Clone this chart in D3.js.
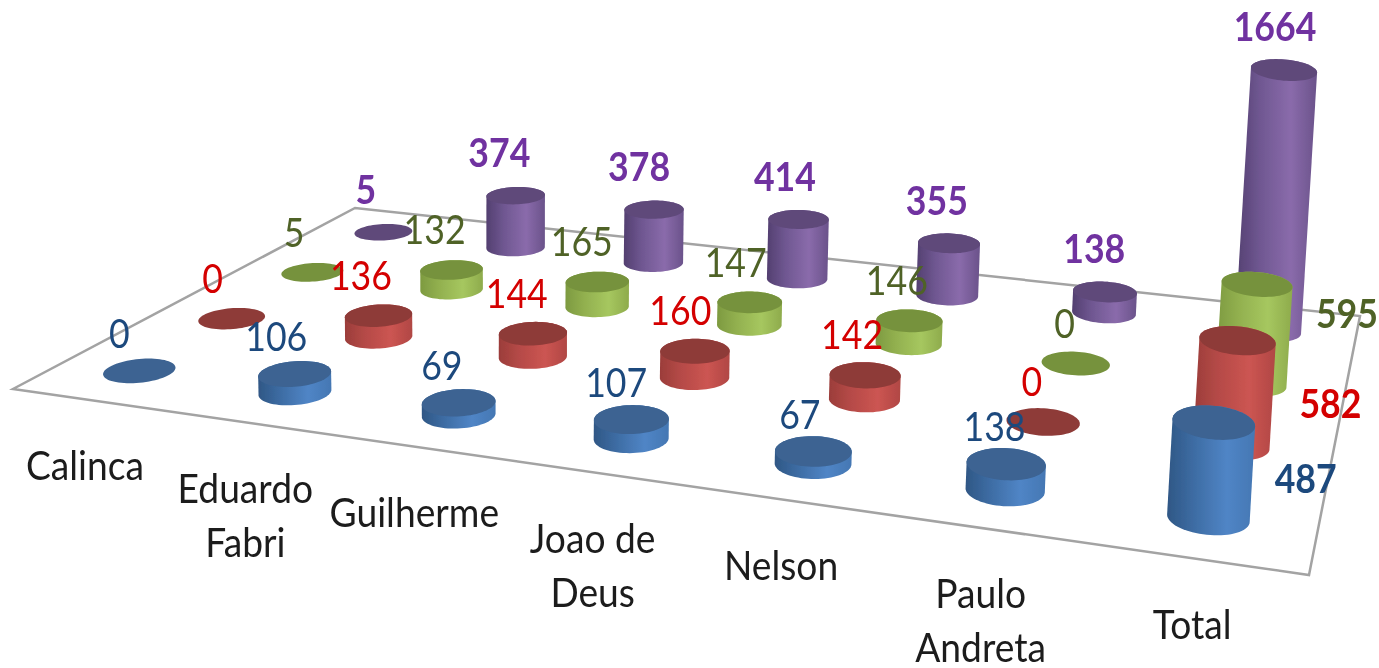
<!DOCTYPE html>
<html>
<head>
<meta charset="utf-8">
<script src="https://cdn.jsdelivr.net/npm/d3@7"></script>
<style>
  html, body { margin: 0; background: #fff; }
  svg { display: block; }
</style>
</head>
<body>
<div id="chart"></div>
<script>
const categories = ["Calinca", "Eduardo\nFabri", "Guilherme", "Joao de\nDeus", "Nelson", "Paulo\nAndreta", "Total"];
const seriesKeys = ["blue", "red", "green", "purple"];
const blueValues = [0, 106, 69, 107, 67, 138, 487];
const redValues = [0, 136, 144, 160, 142, 0, 582];
const greenValues = [5, 132, 165, 147, 146, 0, 595];
const purpleValues = [5, 374, 378, 414, 355, 138, 1664];

const width = 1379;
const height = 668;
const valuesByKey = { blue: blueValues, red: redValues, green: greenValues, purple: purpleValues };
const palette = {
  blue: { top: "#3c6392", stops: ["#2f5785", "#3d6ca3", "#5085c6", "#4477b3"], label: "#1f497d" },
  red: { top: "#8e3a38", stops: ["#9b3d3a", "#b54a47", "#cc5552", "#b04744"], label: "#d40000" },
  green: { top: "#76923c", stops: ["#7d9a40", "#92b04f", "#a6c75f", "#8eab4c"], label: "#4f6228" },
  purple: { top: "#5f497a", stops: ["#533f70", "#6f5791", "#8a6bab", "#6a528a"], label: "#7030a0" },
};

// Floor corners, front-left then counter-clockwise
const floor = [[13, 389], [1309, 575], [1360, 316], [355, 208]];

// Maps the unit square onto the floor quad
function quadProjection([[x0, y0], [x1, y1], [x2, y2], [x3, y3]]) {
  const sx = x0 - x1 + x2 - x3;
  const sy = y0 - y1 + y2 - y3;
  const dx1 = x1 - x2, dx2 = x3 - x2, dy1 = y1 - y2, dy2 = y3 - y2;
  const det = dx1 * dy2 - dx2 * dy1;
  const g = (sx * dy2 - dx2 * sy) / det;
  const h = (dx1 * sy - sx * dy1) / det;
  const a = x1 - x0 + g * x1, b = x3 - x0 + h * x3;
  const d = y1 - y0 + g * y1, e = y3 - y0 + h * y3;
  return (u, v) => {
    const w = g * u + h * v + 1;
    return [(a * u + b * v + x0) / w, (d * u + e * v + y0) / w];
  };
}
const project = quadProjection(floor);

const x = d3.scaleBand().domain(categories).range([-0.002, 0.998]);
const z = d3.scaleBand().domain(seriesKeys).range([0, 1]);
// Height of a cylinder, in multiples of its on-screen width
const y = d3.scaleLinear().domain([0, 1664]).range([0, 3.95]);
// Uprights lean outwards with distance from the centre of the view
const lean = d3.scaleLinear().domain([500, 1250]).range([0, 0.06]);
// Labels sit up and left of the cylinder top, less so further right
const labelShift = d3.scaleLinear().domain([140, 1280]).range([-20, -9]);
const labelRise = { blue: 37, red: 40, green: 40, purple: 43 };

const radiusU = 0.028;
const radiusV = 0.052;
const angles = d3.range(0, 2 * Math.PI, Math.PI / 36);
const closedLine = d3.line().curve(d3.curveLinearClosed);

const svg = d3.select("#chart")
  .append("svg")
  .attr("width", width)
  .attr("height", height)
  .attr("viewBox", [0, 0, width, height]);

const defs = svg.append("defs");

// Side gradients
seriesKeys.forEach((key) => {
  const grad = defs.append("linearGradient").attr("id", `side-${key}`);
  [0, 0.3, 0.68, 1].forEach((offset, i) => {
    grad.append("stop").attr("offset", offset).attr("stop-color", palette[key].stops[i]);
  });
});

// The source is an enlarged screenshot, so everything is a little soft
defs.append("filter")
  .attr("id", "soft")
  .append("feGaussianBlur")
  .attr("stdDeviation", 0.7);

const scene = svg.append("g").attr("filter", "url(#soft)");

// Floor outline
scene.append("path")
  .attr("d", closedLine(floor))
  .attr("fill", "none")
  .attr("stroke", "#a3a3a3")
  .attr("stroke-width", 2.5);

// Back series first so nearer cylinders cover them
const marks = [...seriesKeys].reverse().flatMap((key) =>
  categories.map((category, i) => {
    const u = x(category) + x.bandwidth() / 2;
    const v = z(key) + z.bandwidth() / 2;
    const base = angles.map((a) => project(u + radiusU * Math.cos(a), v + radiusV * Math.sin(a)));
    const center = project(u, v);
    const span = d3.extent(base, (p) => p[0]);
    const rise = y(valuesByKey[key][i]) * (span[1] - span[0]);
    const offset = [rise * lean(center[0]), -rise];
    const top = base.map((p) => [p[0] + offset[0], p[1] + offset[1]]);
    const topCenter = [center[0] + offset[0], center[1] + offset[1]];
    return { key, i, value: valuesByKey[key][i], base, top, topCenter };
  })
);

const cylinders = scene.selectAll("g.cylinder")
  .data(marks)
  .join("g")
  .attr("class", "cylinder");

cylinders.filter((d) => d.value > 5)
  .append("path")
  .attr("d", (d) => closedLine(d3.polygonHull([...d.base, ...d.top])))
  .attr("fill", (d) => `url(#side-${d.key})`);

cylinders.append("path")
  .attr("d", (d) => closedLine(d.top))
  .attr("fill", (d) => palette[d.key].top);

// Total labels for the front three series sit beside the cylinder
const totalLabelOffset = { blue: [92, 56], red: [93, 63], green: [90, 30] };
const totalIndex = categories.length - 1;

scene.selectAll("text.value")
  .data(marks)
  .join("text")
  .attr("class", "value")
  .attr("text-anchor", "middle")
  .attr("dy", "0.35em")
  .attr("transform", (d) => {
    const side = d.i === totalIndex && totalLabelOffset[d.key];
    const tx = d.topCenter[0] + (side ? side[0] : labelShift(d.topCenter[0]));
    const ty = d.topCenter[1] + (side ? side[1] : -labelRise[d.key]);
    return `translate(${tx},${ty}) scale(0.87,1)`;
  })
  .attr("fill", (d) => palette[d.key].label)
  .attr("font-family", "Lato, sans-serif")
  .attr("font-size", 41)
  .attr("font-weight", (d) => (d.i === totalIndex || d.key === "purple" ? 700 : 400))
  .text((d) => d.value);

// Category labels follow the front edge
const catLabels = scene.selectAll("text.category")
  .data(categories)
  .join("text")
  .attr("class", "category")
  .attr("text-anchor", "middle")
  .attr("fill", "#1a1a1a")
  .attr("font-family", "Lato, sans-serif")
  .attr("font-size", 40)
  .attr("transform", (category) => {
    const [px, py] = project(x(category) + x.bandwidth() / 2, 0);
    return `translate(${px - 3},${py + 66}) scale(0.93,1)`;
  });

catLabels.selectAll("tspan")
  .data((category) => category.split("\n"))
  .join("tspan")
  .attr("x", 0)
  .attr("y", (_, i) => i * 54)
  .attr("dy", "0.35em")
  .text((line) => line);
</script>
</body>
</html>
